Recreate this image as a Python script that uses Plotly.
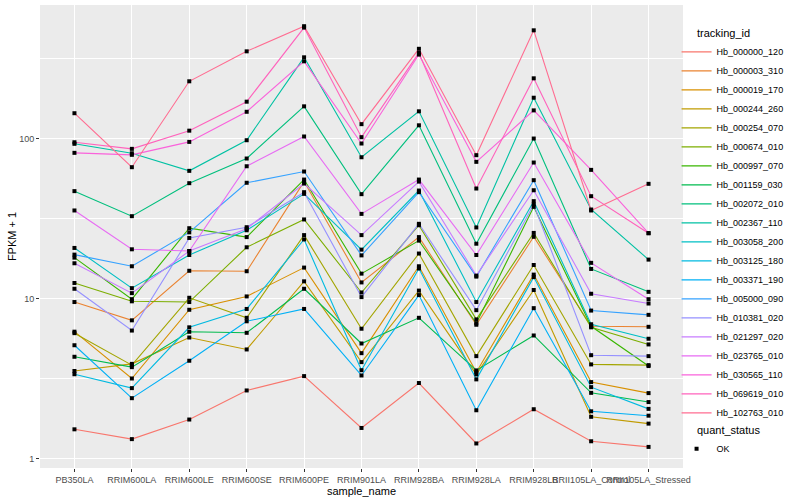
import plotly.graph_objects as go

samples = ["PB350LA", "RRIM600LA", "RRIM600LE", "RRIM600SE", "RRIM600PE", "RRIM901LA",
           "RRIM928BA", "RRIM928LA", "RRIM928LB", "RRII105LA_Control", "RRII105LA_Stressed"]

tracking_ids = ["Hb_000000_120", "Hb_000003_310", "Hb_000019_170", "Hb_000244_260",
                "Hb_000254_070", "Hb_000674_010", "Hb_000997_070", "Hb_001159_030",
                "Hb_002072_010", "Hb_002367_110", "Hb_003058_200", "Hb_003125_180",
                "Hb_003371_190", "Hb_005000_090", "Hb_010381_020", "Hb_021297_020",
                "Hb_023765_010", "Hb_030565_110", "Hb_069619_010", "Hb_102763_010"]

colors = ["#F8766D", "#EA8331", "#D89000", "#C09B00", "#A3A500", "#7CAE00", "#39B600",
          "#00BB4E", "#00BF7D", "#00C1A3", "#00BFC4", "#00BAE0", "#00B0F6", "#35A2FF",
          "#9590FF", "#C77CFF", "#E76BF3", "#FA62DB", "#FF62BC", "#FF6C91"]

# FPKM + 1 values, one list per tracking_id (order of samples)
Hb_000000_120 = [1.52, 1.32, 1.75, 2.66, 3.27, 1.55, 2.96, 1.24, 2.03, 1.28, 1.18]
Hb_000003_310 = [9.5, 7.3, 14.9, 14.8, 53.8, 12.6, 24.2, 6.85, 24.3, 6.7, 6.65]
Hb_000019_170 = [6.2, 3.16, 8.5, 10.3, 15.6, 4.55, 15.9, 3.46, 14.1, 3.0, 2.56]
Hb_000244_260 = [3.52, 3.9, 5.7, 4.8, 12.8, 4.0, 11.2, 3.35, 11.3, 1.82, 1.65]
Hb_000254_070 = [6.07, 3.83, 10.1, 7.57, 24.9, 6.47, 19.1, 4.36, 16.2, 3.87, 3.83]
Hb_000674_010 = [12.5, 9.6, 9.5, 20.9, 31.2, 10.9, 28.7, 7.4, 25.7, 6.6, 5.16]
Hb_000997_070 = [18.0, 9.9, 27.5, 24.2, 55.4, 14.3, 23.0, 7.0, 37.4, 6.7, 3.78]
Hb_001159_030 = [4.32, 3.72, 6.19, 6.10, 11.5, 5.23, 7.57, 3.55, 5.87, 2.57, 2.25]
Hb_002072_010 = [46.9, 32.7, 52.6, 75.0, 159, 44.9, 121, 22.0, 100, 15.3, 11.0]
Hb_002367_110 = [92.7, 80.9, 62.8, 97.6, 322, 76.4, 148, 27.8, 180, 36.0, 17.5]
Hb_003058_200 = [20.7, 11.6, 18.7, 26.7, 45.1, 20.2, 47.3, 9.5, 40.6, 6.9, 5.6]
Hb_003125_180 = [3.36, 2.75, 6.6, 8.6, 23.4, 3.56, 15.4, 3.12, 13.6, 2.79, 2.04]
Hb_003371_190 = [5.1, 2.38, 4.08, 7.2, 8.6, 3.3, 10.5, 2.0, 8.7, 1.97, 1.85]
Hb_005000_090 = [18.8, 15.9, 25.9, 52.9, 62.2, 18.6, 46.2, 13.7, 54.9, 8.4, 7.9]
Hb_010381_020 = [11.5, 6.3, 23.9, 27.9, 46.2, 10.2, 29.3, 8.45, 38.7, 4.42, 4.36]
Hb_021297_020 = [16.6, 10.8, 19.8, 27.3, 52.3, 24.9, 53.8, 13.9, 47.5, 10.7, 9.3]
Hb_023765_010 = [35.5, 20.3, 19.8, 67.1, 103, 33.8, 55.4, 18.7, 70.8, 16.7, 9.9]
Hb_030565_110 = [81.4, 79.1, 95.3, 147, 304, 93.1, 335, 71.5, 150, 63.7, 25.6]
Hb_069619_010 = [94.8, 86.2, 112, 170, 494, 102, 343, 48.7, 238, 43.6, 25.6]
Hb_102763_010 = [144, 66.2, 228, 351, 504, 123, 364, 78.7, 475, 35.5, 52.1]

series = [Hb_000000_120, Hb_000003_310, Hb_000019_170, Hb_000244_260, Hb_000254_070,
          Hb_000674_010, Hb_000997_070, Hb_001159_030, Hb_002072_010, Hb_002367_110,
          Hb_003058_200, Hb_003125_180, Hb_003371_190, Hb_005000_090, Hb_010381_020,
          Hb_021297_020, Hb_023765_010, Hb_030565_110, Hb_069619_010, Hb_102763_010]

FONT = "Liberation Sans"
NB = "\u00a0" * 6
fig = go.Figure()
for name, vals, col in zip(tracking_ids, series, colors):
    fig.add_trace(go.Scatter(x=samples, y=vals, mode="lines", name=name,
                             line=dict(color=col, width=1.1), legend="legend"))

all_x = [s for vals in series for s in samples]
all_y = [v for vals in series for v in vals]
fig.add_trace(go.Scatter(x=all_x, y=all_y, mode="markers", name="OK",
                         marker=dict(symbol="square", size=4, color="black"),
                         legend="legend2"))

fig.update_layout(
    template="none",
    width=800, height=500,
    margin=dict(l=40, r=117, t=5, b=32, autoexpand=False),
    paper_bgcolor="white", plot_bgcolor="#EBEBEB",
    font=dict(family=FONT, color="black"),
    xaxis=dict(type="category", categoryorder="array", categoryarray=samples,
               range=[-0.6, 10.6], showgrid=True, gridcolor="white", gridwidth=1.1,
               ticks="outside", ticklen=3, tickcolor="#333333", tickangle=0,
               automargin=False,
               tickfont=dict(size=9, color="#4D4D4D", family=FONT),
               title=dict(text="sample_name", font=dict(size=11, family=FONT), standoff=2),
               zeroline=False, showline=False),
    yaxis=dict(type="log", range=[-0.06, 2.835], tickvals=[1, 10, 100],
               ticktext=["1", "10", "100"], showgrid=True, gridcolor="white", gridwidth=1.1,
               minor=dict(tickvals=[3.1623, 31.623, 316.23], showgrid=True,
                          gridcolor="white", gridwidth=0.55, ticks=""),
               ticks="outside", ticklen=3, tickcolor="#333333", automargin=False,
               tickfont=dict(size=9, color="#4D4D4D", family=FONT),
               title=dict(text="FPKM + 1", font=dict(size=11, family=FONT), standoff=0),
               zeroline=False, showline=False),
    legend=dict(xref="paper", yref="paper", x=0.990, y=0.961,
                xanchor="left", yanchor="top", itemwidth=30, maxheight=1000,
                title=dict(text=NB + "tracking_id", font=dict(size=11, family=FONT)),
                font=dict(size=9, family=FONT), bgcolor="rgba(0,0,0,0)",
                tracegroupgap=0),
    legend2=dict(xref="paper", yref="paper", x=0.990, y=0.1037,
                 xanchor="left", yanchor="top", itemwidth=30,
                 title=dict(text=NB + "quant_status", font=dict(size=11, family=FONT)),
                 font=dict(size=9, family=FONT), bgcolor="rgba(0,0,0,0)"),
)

fig.write_html("out.html", config={"displayModeBar": False},
               post_script="document.body.style.margin='0px';")
